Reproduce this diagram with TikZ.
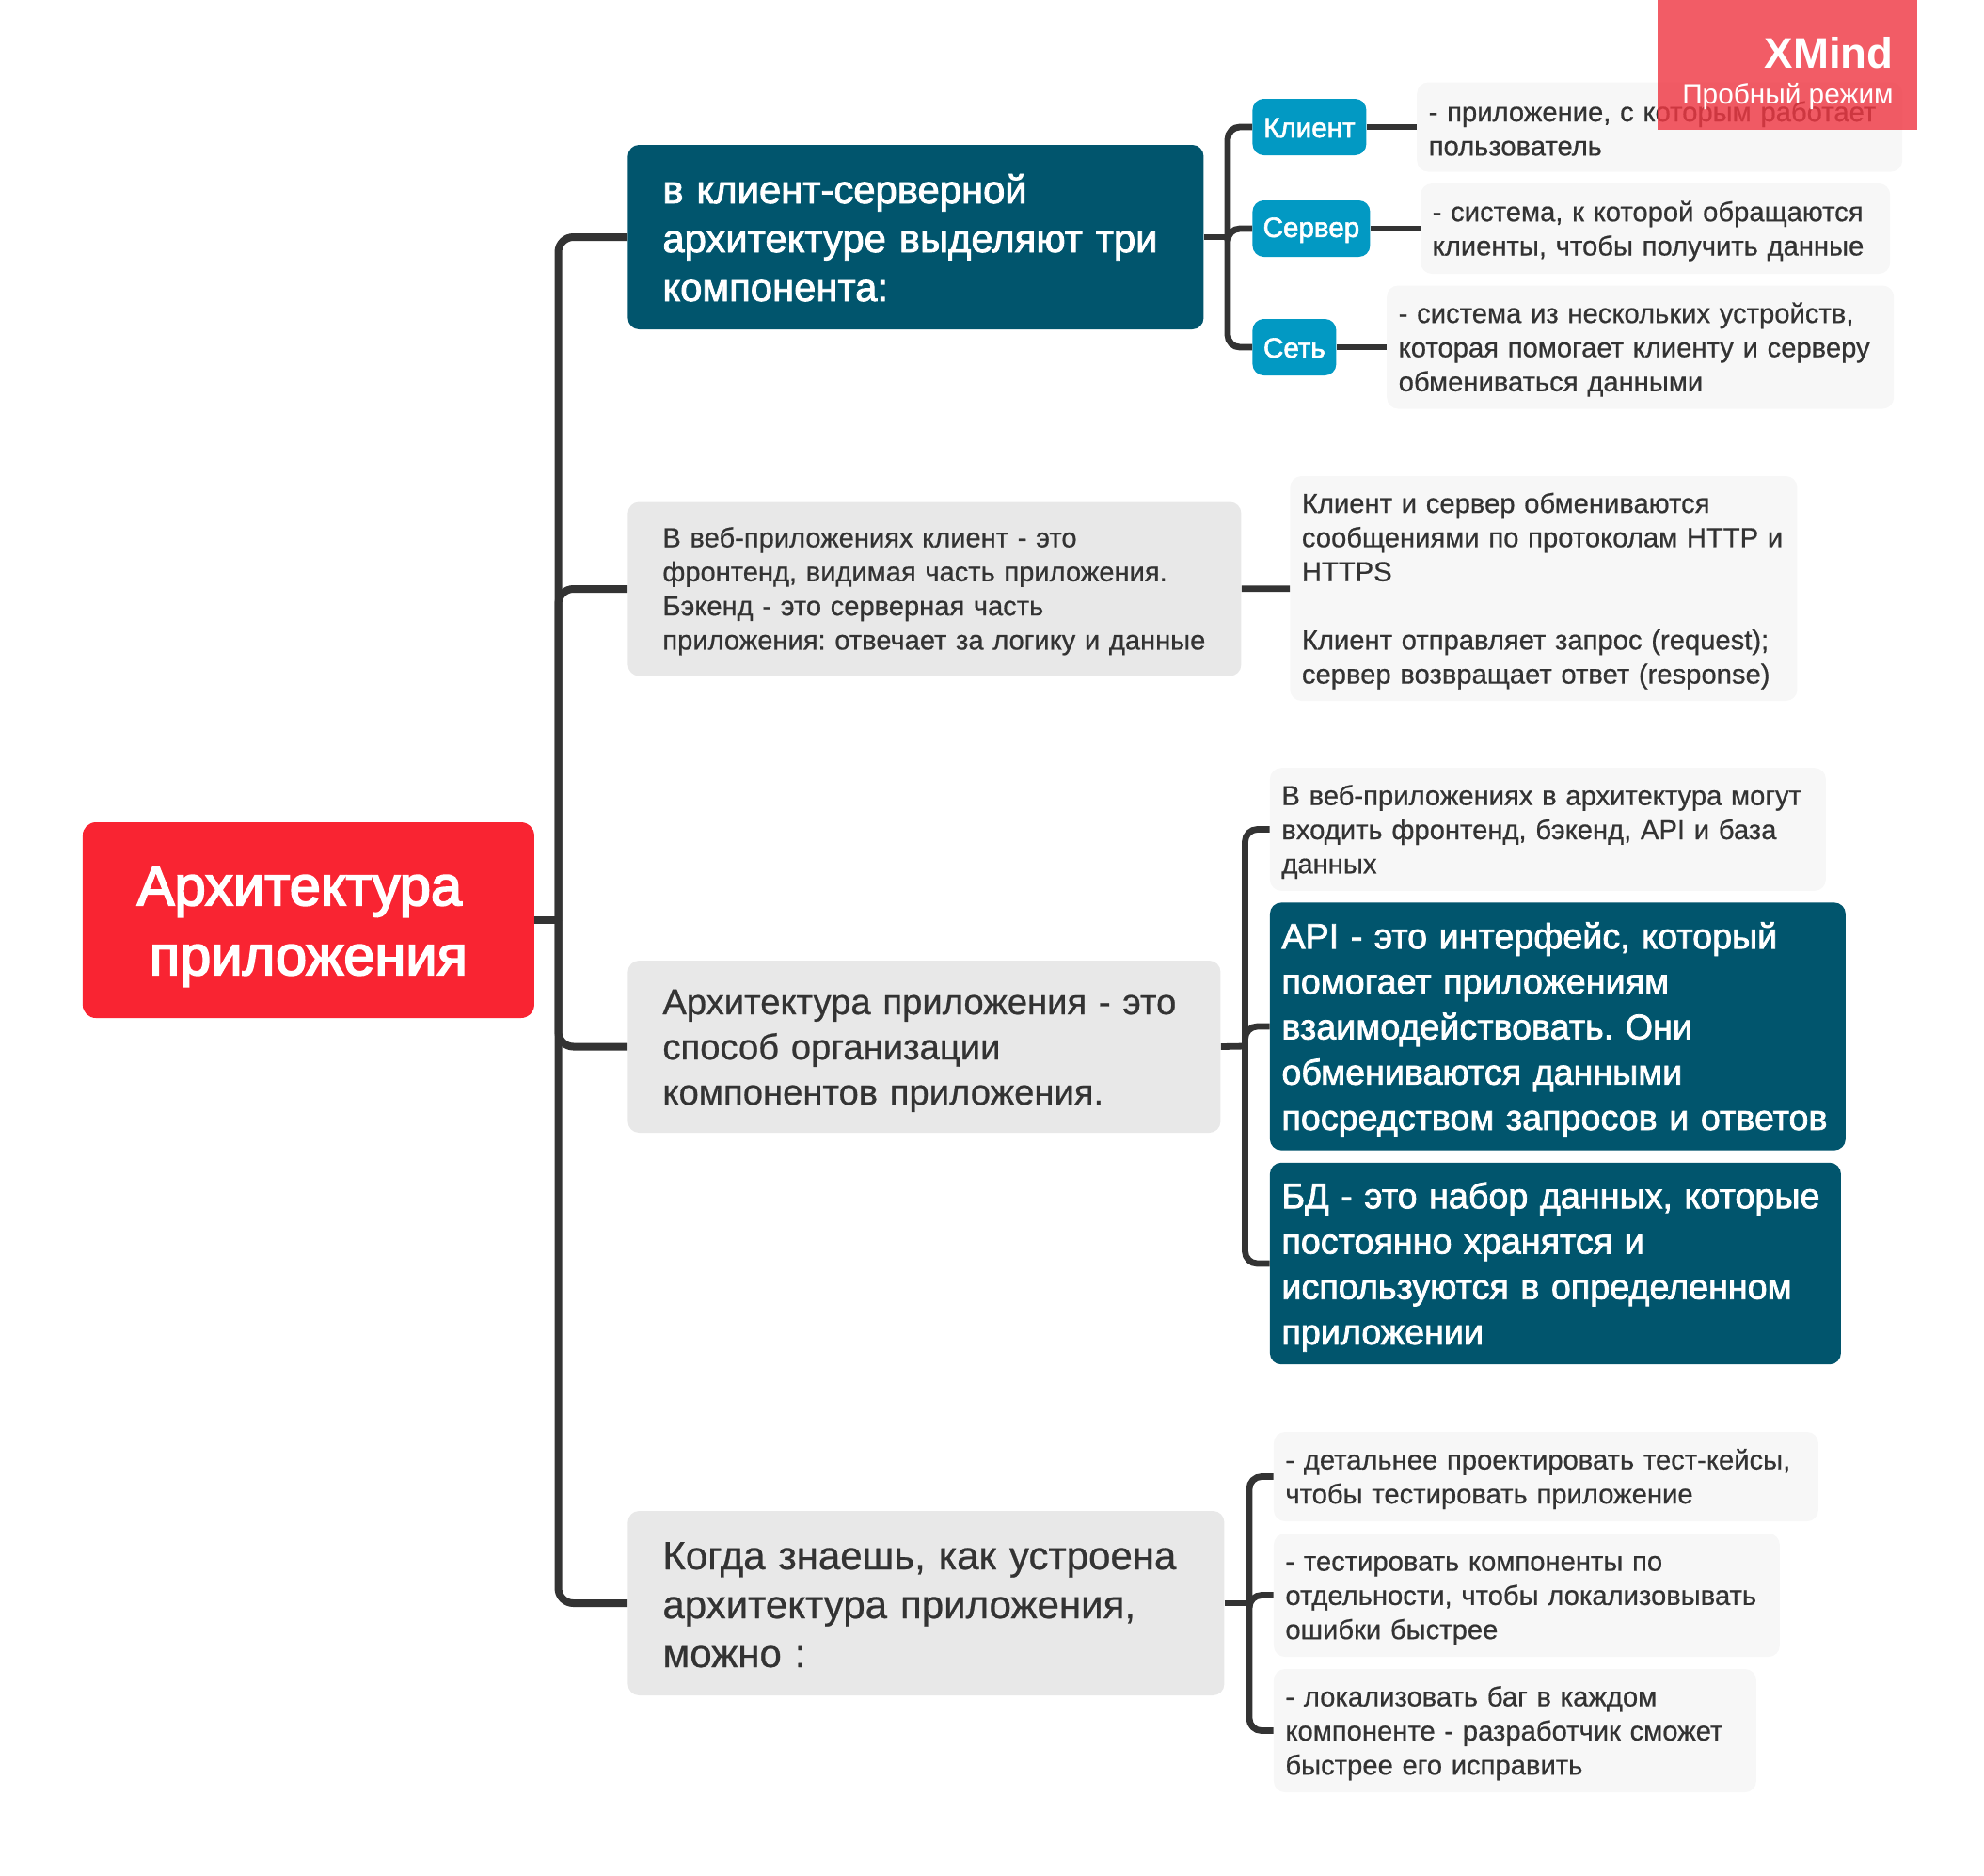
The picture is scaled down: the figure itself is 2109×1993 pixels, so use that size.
\documentclass[tikz,border=0pt]{standalone}
\usepackage{fontspec}
\setmainfont{Liberation Sans}
\newfontfamily\heavyfont[FakeBold=3]{Liberation Sans}
\newfontfamily\mediumfont[FakeBold=2]{Liberation Sans}
\newfontfamily\bookfont[FakeBold=0.6]{Liberation Sans}
\usepackage{xcolor}
\usetikzlibrary{positioning}
\definecolor{rootred}{HTML}{F92432}
\definecolor{deepteal}{HTML}{01556D}
\definecolor{chipblue}{HTML}{0299C3}
\definecolor{softgrey}{HTML}{E8E8E8}
\definecolor{notegrey}{HTML}{F7F7F7}
\definecolor{inkgrey}{HTML}{333333}
\definecolor{trialred}{HTML}{EF3844}
\tikzset{
  linestrut/.style 2 args={
    execute at begin node={\rule{0pt}{#1}},
    execute at end node={\rule[-#2]{0pt}{#2}}
  },
  plainbox/.style={
    rectangle, rounded corners=6pt, inner xsep=0pt, inner ysep=0pt, anchor=west, align=left
  },
  rootbox/.style={
    plainbox, fill=rootred, text=white, align=center, text width=240pt, minimum height=104pt,
    rounded corners=7pt, linestrut={27.4pt}{2pt},
    font=\heavyfont\fontsize{29.8}{37}\selectfont
  },
  darkbox/.style={
    plainbox, fill=deepteal, text=white, font=\mediumfont\fontsize{20.9}{26}\selectfont,
    inner xsep=18.5pt, linestrut={18pt}{2pt}
  },
  greybox/.style={
    plainbox, fill=softgrey, text=inkgrey, font=\bookfont\fontsize{14.55}{18.15}\selectfont,
    inner xsep=18.5pt, linestrut={13pt}{1.2pt}
  },
  chipbox/.style={
    plainbox, fill=chipblue, text=white, align=center, minimum height=30pt,
    linestrut={12pt}{1pt}, font=\mediumfont\fontsize{14.8}{18}\selectfont
  },
  notebox/.style={
    plainbox, fill=notegrey, text=inkgrey, font=\bookfont\fontsize{14.6}{18.15}\selectfont,
    inner xsep=6.25pt, linestrut={13.4pt}{1.2pt}
  },
  apibox/.style={
    plainbox, fill=deepteal, text=white, font=\mediumfont\fontsize{18.85}{24.1}\selectfont,
    inner xsep=6.25pt, linestrut={17.5pt}{2pt}
  },
  mainlink/.style={line width=4pt, color=inkgrey, rounded corners=8pt},
  sublink/.style={line width=3.4pt, color=inkgrey, rounded corners=6.5pt}
}

\begin{document}
\frenchspacing
\begin{tikzpicture}[x=0.5pt, y=-0.5pt, node distance=26.5pt]
\useasboundingbox (0,0) rectangle (2109,1993);

% Root and first level
\node[rootbox] (root) at (87.5,978) {Архитектура\hspace{9.5pt}\null\\приложения};
\node[darkbox, text width=269pt, minimum height=98pt] (topicA) at (667,252) {в клиент-серверной\\архитектуре выделяют три\\компонента:};
\node[greybox, text width=289pt, minimum height=92.5pt] (topicB) at (667,626) {В веб-приложениях клиент - это\\фронтенд, видимая часть приложения.\\Бэкенд - это серверная часть\\приложения: отвечает за логику и данные};
\node[greybox, font=\bookfont\fontsize{19.1}{24}\selectfont, linestrut={17.5pt}{2pt}, text width=278pt, minimum height=91.5pt] (topicC) at (667,1112.5) {Архитектура приложения - это\\способ организации\\компонентов приложения.};
\node[greybox, font=\bookfont\fontsize{21}{26}\selectfont, linestrut={18pt}{2pt}, text width=280pt, minimum height=98pt] (topicD) at (667,1704) {Когда знаешь, как устроена\\архитектура приложения,\\можно :};

% Client, server, network
\node[chipbox, text width=60.5pt] (chipClient) at (1331,135) {Клиент};
\node[chipbox, text width=62.5pt] (chipServer) at (1331,243) {Сервер};
\node[chipbox, text width=44.5pt] (chipNetwork) at (1331,369) {Сеть};
\node[notebox, text width=245.5pt, minimum height=47.5pt, right=of chipClient] (noteClient) {- приложение, с которым работает\\пользователь};
\node[notebox, text width=237pt, minimum height=48pt, right=of chipServer] (noteServer) {- система, к которой обращаются\\клиенты, чтобы получить данные};
\node[notebox, text width=257pt, minimum height=65.5pt, right=of chipNetwork] (noteNetwork) {- система из нескольких устройств,\\которая помогает клиенту и серверу\\обмениваться данными};

% HTTP note
\node[notebox, text width=257pt, minimum height=119.5pt] (noteHttp) at (1371,625.5) {Клиент и сервер обмениваются\\сообщениями по протоколам HTTP и\\HTTPS\\[18.15pt]Клиент отправляет запрос (request);\\сервер возвращает ответ (response)};

% Architecture children
\node[notebox, text width=283pt, minimum height=65.3pt] (noteWeb) at (1349.5,881.5) {В веб-приложениях в архитектура могут\\входить фронтенд, бэкенд, API и база\\данных};
\node[apibox, text width=293.5pt, minimum height=131.6pt] (noteApi) at (1349.5,1091) {API - это интерфейс, который\\помогает приложениям\\взаимодействовать. Они\\обмениваются данными\\посредством запросов и ответов};
\node[apibox, text width=291pt, minimum height=107.2pt] (noteDb) at (1349.5,1343) {БД - это набор данных, которые\\постоянно хранятся и\\используются в определенном\\приложении};

% Testing children
\node[notebox, text width=277pt, minimum height=47.5pt] (noteCases) at (1353.5,1569.5) {- детальнее проектировать тест-кейсы,\\чтобы тестировать приложение};
\node[notebox, text width=256.5pt, minimum height=65.5pt] (noteParts) at (1353.5,1695.5) {- тестировать компоненты по\\отдельности, чтобы локализовывать\\ошибки быстрее};
\node[notebox, text width=244pt, minimum height=65.5pt] (noteBugs) at (1353.5,1839.5) {- локализовать баг в каждом\\компоненте - разработчик сможет\\быстрее его исправить};

% Spines
\coordinate (spineMain) at (593.5,978);
\coordinate (spineA) at (1305,252);
\coordinate (spineC) at (1323.5,1112);
\coordinate (spineD) at (1328,1704);

% Links (main)
\draw[mainlink] (root.east) -- (spineMain);
\draw[mainlink] (spineMain) |- (topicA.west);
\draw[mainlink] (spineMain) |- (topicB.west);
\draw[mainlink] (spineMain) |- (topicC.west);
\draw[mainlink] (spineMain) |- (topicD.west);

% Links (first topic)
\draw[sublink] (topicA.east) -- (spineA);
\draw[sublink] (spineA) |- (chipClient.west);
\draw[sublink] (spineA) |- (chipServer.west);
\draw[sublink] (spineA) |- (chipNetwork.west);
\draw[sublink] (chipClient) -- (noteClient);
\draw[sublink] (chipServer) -- (noteServer);
\draw[sublink] (chipNetwork) -- (noteNetwork);

% Links (other topics)
\draw[sublink] (topicB) -- (noteHttp);
\draw[sublink] (topicC.east) -- (spineC);
\draw[sublink] (spineC) |- (noteWeb.west);
\draw[sublink] (spineC) |- (noteApi.west);
\draw[sublink] (spineC) |- (noteDb.west);
\draw[sublink] (topicD.east) -- (spineD);
\draw[sublink] (spineD) |- (noteCases.west);
\draw[sublink] (spineD) |- (noteParts.west);
\draw[sublink] (spineD) |- (noteBugs.west);

% Watermark
\node[rectangle, fill=trialred, fill opacity=0.82, minimum width=138pt, minimum height=69pt, inner sep=0pt, anchor=north west] (trialbox) at (1762,0) {};
\node[anchor=base east, inner sep=0pt, text=white, font=\bfseries\fontsize{22.8}{26}\selectfont] (trialname) at (2013,72) {XMind};
\node[anchor=base east, inner sep=0pt, text=white, font=\fontsize{14.9}{18}\selectfont] (trialmode) at (2013,110) {Пробный режим};

\end{tikzpicture}
\end{document}
